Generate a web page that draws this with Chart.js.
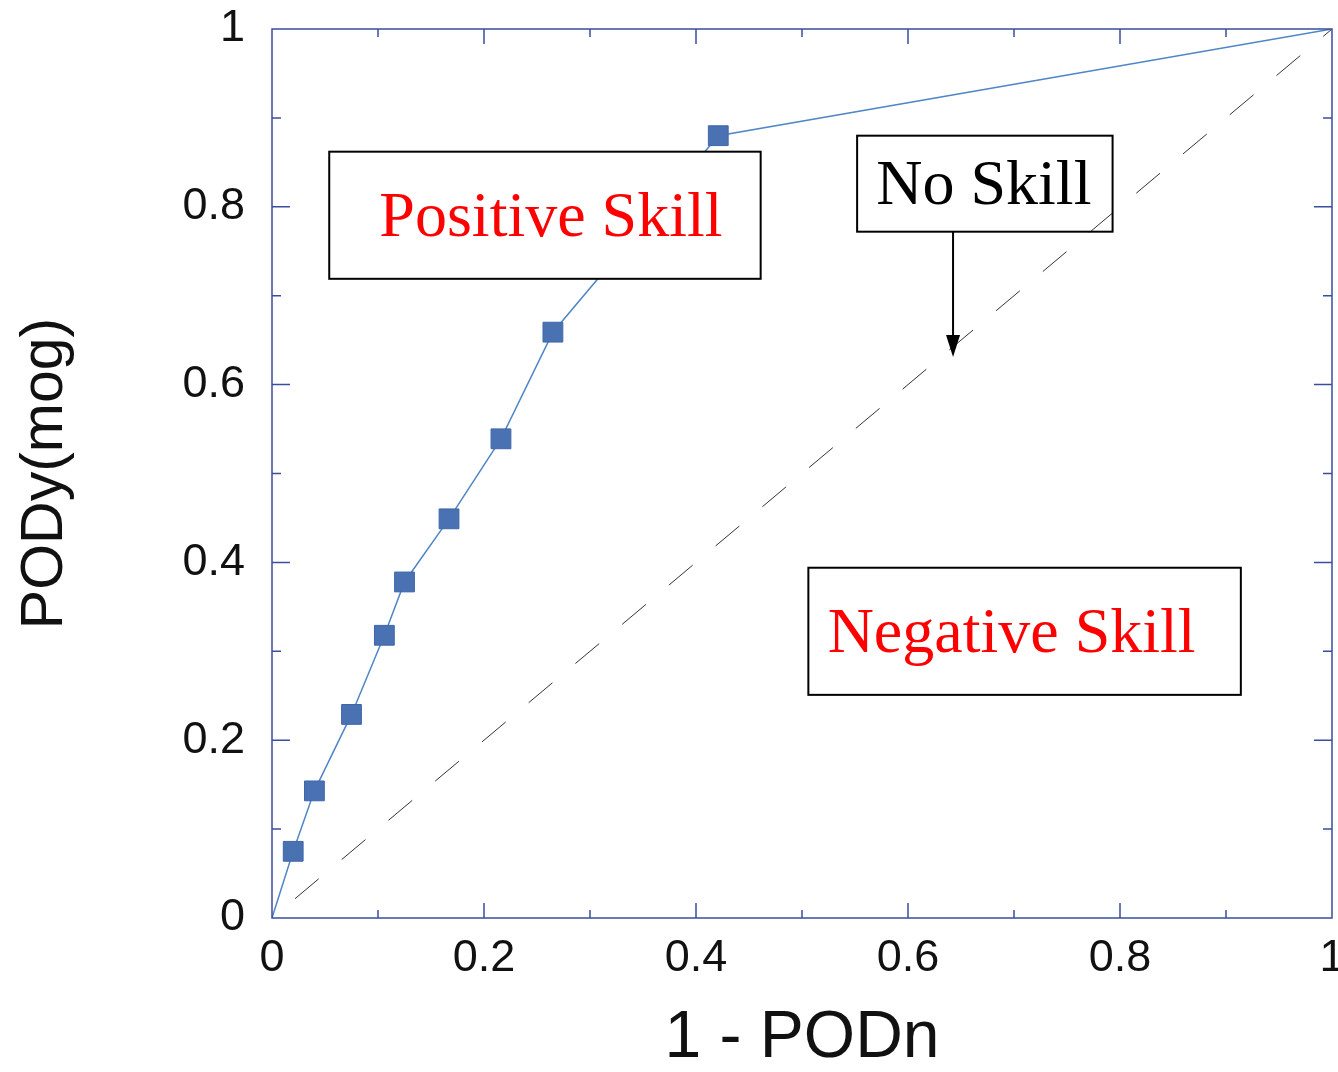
<!DOCTYPE html>
<html>
<head>
<meta charset="utf-8">
<script src="https://cdn.jsdelivr.net/npm/chart.js@4.4.1/dist/chart.umd.min.js"></script>
<style>
  html, body { margin: 0; padding: 0; background: #fff; }
  #wrap { width: 1338px; height: 1072px; }
</style>
</head>
<body>
<div id="wrap"><canvas id="rocChart" width="1338" height="1072"></canvas></div>
<script>
// ROC curve values
const falseAlarm = [0, 0.020, 0.040, 0.075, 0.106, 0.125, 0.167, 0.216, 0.265, 0.421, 1];
const hitRate    = [0, 0.075, 0.143, 0.229, 0.318, 0.378, 0.449, 0.539, 0.659, 0.880, 1];
const diagX = [0, 1];
const diagY = [0, 1];
const xTicks = [0, 0.2, 0.4, 0.6, 0.8, 1];
const yTicks = [0, 0.2, 0.4, 0.6, 0.8, 1];

const AXIS_COLOR = '#3a4d9e';
const SANS = '"Liberation Sans", Arial, sans-serif';

// labelled boxes, in data coordinates (dx = small text nudge in px)
const boxes = [
  { text: 'Positive Skill', color: '#ff0000', x0: 0.054, x1: 0.461, y0: 0.862, y1: 0.719, fill: true, dx: 6 },
  { text: 'No Skill', color: '#000000', x0: 0.552, x1: 0.793, y0: 0.880, y1: 0.772, fill: false, dx: -1 },
  { text: 'Negative Skill', color: '#ff0000', x0: 0.506, x1: 0.914, y0: 0.394, y1: 0.251, fill: true, dx: -13 }
];
const arrow = { x: 0.6425, yFrom: 0.772, yTo: 0.631 };

const toPoints = (xs, ys) => xs.map((x, i) => ({ x: x, y: ys[i] }));

// inward ticks on all four sides plus the frame
const frameAndTicks = {
  id: 'frameAndTicks',
  afterDraw(chart) {
    const { ctx, chartArea: a, scales: { x, y } } = chart;
    ctx.save();
    ctx.strokeStyle = AXIS_COLOR;
    ctx.lineWidth = 1.5;
    ctx.strokeRect(a.left, a.top, a.right - a.left, a.bottom - a.top);
    for (let i = 1; i < 10; i++) {
      const v = i / 10;
      const major = i % 2 === 0;
      const px = x.getPixelForValue(v);
      const lx = major ? 15 : 8;
      ctx.beginPath();
      ctx.moveTo(px, a.bottom); ctx.lineTo(px, a.bottom - lx);
      ctx.moveTo(px, a.top); ctx.lineTo(px, a.top + lx);
      const py = y.getPixelForValue(v);
      const ly = major ? 18 : 9;
      ctx.moveTo(a.left, py); ctx.lineTo(a.left + ly, py);
      ctx.moveTo(a.right, py); ctx.lineTo(a.right - ly, py);
      ctx.stroke();
    }
    ctx.restore();
  }
};

const annotations = {
  id: 'annotations',
  afterDatasetsDraw(chart) {
    const { ctx, scales: { x, y } } = chart;
    ctx.save();
    boxes.forEach(b => {
      const l = x.getPixelForValue(b.x0), r = x.getPixelForValue(b.x1);
      const t = y.getPixelForValue(b.y0), bt = y.getPixelForValue(b.y1);
      if (b.fill) {
        ctx.fillStyle = '#ffffff';
        ctx.fillRect(l, t, r - l, bt - t);
      }
      ctx.strokeStyle = '#000';
      ctx.lineWidth = 2;
      ctx.strokeRect(l, t, r - l, bt - t);
      ctx.fillStyle = b.color;
      ctx.font = '64px "Liberation Serif", "Times New Roman", serif';
      ctx.textAlign = 'center';
      ctx.textBaseline = 'middle';
      ctx.fillText(b.text, (l + r) / 2 + b.dx, (t + bt) / 2 + 4);
    });

    // arrow from the No Skill box down to the diagonal
    const ax = x.getPixelForValue(arrow.x);
    const ay0 = y.getPixelForValue(arrow.yFrom);
    const ay1 = y.getPixelForValue(arrow.yTo);
    ctx.strokeStyle = '#000';
    ctx.fillStyle = '#000';
    ctx.lineWidth = 2;
    ctx.beginPath();
    ctx.moveTo(ax, ay0);
    ctx.lineTo(ax, ay1 - 18);
    ctx.stroke();
    ctx.beginPath();
    ctx.moveTo(ax - 7, ay1 - 22);
    ctx.lineTo(ax + 7, ay1 - 22);
    ctx.lineTo(ax, ay1);
    ctx.closePath();
    ctx.fill();
    ctx.restore();
  }
};

const ctx = document.getElementById('rocChart').getContext('2d');
new Chart(ctx, {
  type: 'scatter',
  data: {
    datasets: [
      {
        label: 'No skill',
        data: toPoints(diagX, diagY),
        showLine: true,
        borderColor: '#333333',
        borderWidth: 1,
        borderDash: [31, 30],
        borderDashOffset: 31,
        pointRadius: 0,
        order: 2
      },
      {
        label: 'PODy',
        data: toPoints(falseAlarm, hitRate),
        showLine: true,
        borderColor: '#4f86c6',
        borderWidth: 1.5,
        pointStyle: 'rect',
        pointRadius: c => (c.dataIndex === 0 || c.dataIndex === falseAlarm.length - 1) ? 0 : 14,
        pointBackgroundColor: '#4a72b2',
        pointBorderColor: '#3f66aa',
        pointBorderWidth: 1,
        order: 1
      }
    ]
  },
  options: {
    responsive: false,
    animation: false,
    layout: { padding: { top: 29, right: 6, left: 0, bottom: 0 } },
    plugins: {
      legend: { display: false },
      tooltip: { enabled: false }
    },
    scales: {
      x: {
        type: 'linear',
        min: 0,
        max: 1,
        afterBuildTicks: s => { s.ticks = xTicks.map(v => ({ value: v })); },
        afterFit: s => { s.height = 154; s.paddingLeft = 0; s.paddingRight = 0; },
        grid: { display: false, drawTicks: false },
        border: { display: false },
        ticks: {
          padding: 14,
          color: '#111',
          font: { family: SANS, size: 45 },
          maxRotation: 0,
          callback: v => String(v)
        },
        title: {
          display: true,
          text: '1 - PODn',
          color: '#111',
          padding: { top: 0, bottom: 0 },
          font: { family: SANS, size: 66, lineHeight: 1 }
        }
      },
      y: {
        type: 'linear',
        min: 0,
        max: 1,
        afterBuildTicks: s => { s.ticks = yTicks.map(v => ({ value: v })); },
        afterFit: s => { s.width = 272; s.paddingTop = 0; s.paddingBottom = 0; },
        grid: { display: false, drawTicks: false },
        border: { display: false },
        ticks: {
          padding: 27,
          color: '#111',
          font: { family: SANS, size: 45 },
          callback: v => String(v)
        },
        title: {
          display: true,
          text: 'PODy(mog)',
          color: '#111',
          padding: { top: 16, bottom: 0 },
          font: { family: SANS, size: 59, lineHeight: 1 }
        }
      }
    }
  },
  plugins: [frameAndTicks, annotations]
});
</script>
</body>
</html>
